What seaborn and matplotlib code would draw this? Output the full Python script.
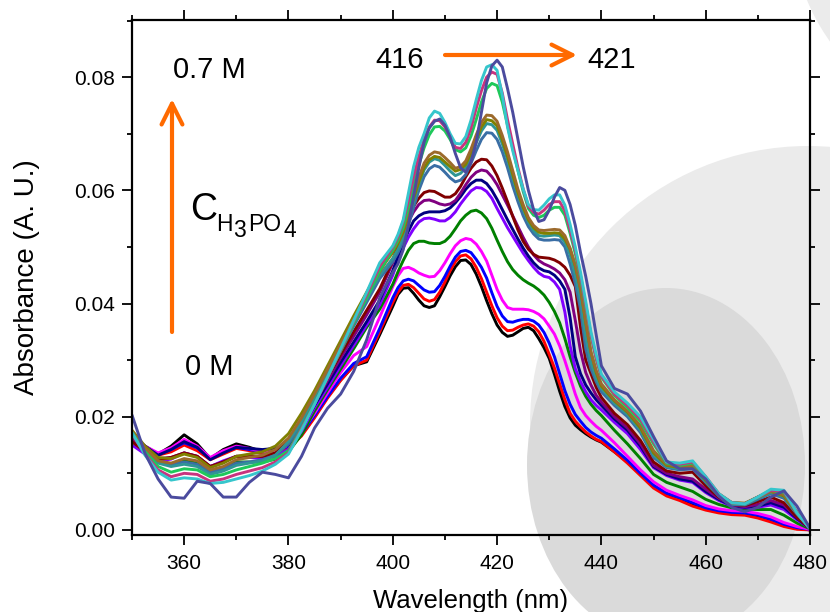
import numpy as np
import pandas as pd
import matplotlib
matplotlib.use("Agg")
import matplotlib.pyplot as plt
from matplotlib.patches import Circle, Ellipse
from matplotlib.ticker import MultipleLocator, FormatStrFormatter
import seaborn as sns

# Wavelength grid (nm): 2.5 nm steps, 1 nm steps across the Soret band
wavelength = ([350, 352.5, 355, 357.5, 360, 362.5, 365, 367.5, 370, 372.5, 375, 377.5,
               380, 382.5, 385, 387.5, 390, 392.5, 395, 397.5]
              + list(range(400, 441))
              + [442.5, 445, 447.5, 450, 452.5, 455, 457.5, 460, 462.5, 465, 467.5, 470,
                 472.5, 475, 477.5, 480])

# Absorbance spectra in units of 1e-3 A.U., from 0 M (first) to 0.7 M (last) H3PO4
abs_black = [16.5, 14.8, 13.4, 14.8, 16.8, 15.2, 12.6, 14.2, 15.2, 14.6, 13.8, 13.9,
             14.6, 16.8, 20.0, 23.5, 26.5, 29.0, 29.7, 34.5,
             39.5, 41.6, 42.7, 42.8, 41.8, 40.6, 39.6, 39.3, 39.6, 41.2, 43.0, 44.9, 46.5, 47.6,
             47.7, 46.9, 45.2, 43.0, 40.5, 38.2, 36.2, 34.9, 34.2, 34.4, 35.0, 35.6, 35.8, 35.2,
             33.8, 32.2, 30.3, 27.5, 24.5, 21.8, 19.8, 18.5, 17.7, 17.0, 16.4, 15.9, 15.5,
             13.8, 12.0, 9.8, 7.6, 6.3, 5.6, 4.6, 3.7, 3.4, 3.2, 3.0, 2.5, 1.8, 0.9, 0.3, 0.0]
abs_red = [15.8, 14.5, 13.2, 13.8, 15.0, 14.0, 12.4, 13.4, 14.4, 14.0, 13.5, 13.6,
           14.4, 16.6, 19.8, 23.3, 26.4, 29.0, 30.0, 35.0,
           40.2, 42.0, 43.2, 43.4, 42.8, 41.8, 40.8, 40.4, 40.7, 42.0, 43.8, 45.8, 47.4, 48.4,
           48.6, 47.9, 46.4, 44.4, 42.0, 39.6, 37.5, 36.0, 35.2, 35.3, 35.8, 36.2, 36.4, 36.0,
           35.0, 33.3, 31.0, 28.6, 25.8, 23.0, 20.6, 19.2, 18.2, 17.3, 16.6, 16.0, 15.6,
           13.8, 11.8, 9.6, 7.4, 6.0, 5.2, 4.2, 3.5, 3.0, 2.7, 2.6, 2.1, 1.4, 0.6, 0.1, 0.0]
abs_blue = [16.0, 14.6, 13.4, 14.2, 15.4, 14.5, 12.6, 13.8, 14.6, 14.2, 13.8, 13.9,
            14.8, 17.0, 20.2, 23.6, 26.8, 29.4, 30.6, 35.6,
            41.0, 42.8, 44.0, 44.3, 44.0, 43.2, 42.4, 42.0, 42.1, 43.2, 44.8, 46.6, 48.2, 49.2,
            49.4, 49.0, 47.8, 46.4, 44.5, 41.9, 39.5, 37.8, 36.8, 36.7, 37.0, 37.2, 37.2, 36.9,
            36.2, 34.9, 33.0, 30.6, 27.6, 24.6, 22.2, 20.4, 19.2, 18.1, 17.3, 16.7, 16.2,
            14.3, 12.3, 10.0, 7.9, 6.5, 5.7, 4.8, 3.9, 3.4, 3.1, 3.0, 2.6, 1.9, 1.0, 0.4, 0.1]
abs_magenta = [16.4, 14.8, 13.6, 14.5, 16.0, 14.8, 12.8, 14.0, 14.8, 14.4, 13.8, 14.0,
               15.0, 17.3, 20.6, 24.2, 27.8, 30.8, 32.4, 37.6,
               43.0, 44.9, 46.2, 46.4, 46.0, 45.4, 45.0, 44.7, 44.8, 45.8, 47.2, 48.8, 50.2, 51.1,
               51.5, 51.3, 50.5, 49.2, 47.5, 45.0, 42.5, 40.6, 39.3, 39.0, 39.0, 39.0, 38.9, 38.6,
               38.1, 37.3, 36.0, 34.6, 32.5, 29.9, 27.0, 24.0, 21.6, 20.2, 19.2, 18.3, 17.6,
               15.4, 13.0, 10.6, 8.5, 7.0, 6.1, 5.3, 4.3, 3.7, 3.4, 3.3, 2.9, 2.3, 1.3, 0.6, 0.1]
abs_green_dk = [16.2, 13.8, 12.0, 11.6, 12.2, 11.8, 10.2, 11.0, 12.0, 12.0, 12.0, 12.5,
                13.8, 16.8, 21.0, 24.8, 28.4, 32.0, 35.8, 39.0,
                43.4, 45.6, 47.6, 49.4, 50.6, 51.0, 51.0, 50.7, 50.6, 50.6, 51.0, 51.9, 53.2, 54.6,
                55.6, 56.3, 56.5, 56.0, 55.0, 53.3, 51.2, 49.2, 47.4, 46.0, 45.0, 44.2, 43.6, 43.1,
                42.4, 41.5, 40.2, 38.6, 36.6, 33.8, 30.6, 27.8, 25.4, 23.6, 22.2, 21.1, 20.2,
                17.6, 15.2, 12.6, 9.8, 8.4, 7.6, 6.8, 5.4, 4.5, 3.9, 3.7, 3.6, 3.6, 2.6, 1.2, 0.2]
abs_violet = [15.0, 13.4, 12.2, 12.5, 13.6, 13.0, 11.2, 12.2, 13.0, 12.8, 12.6, 13.0,
              14.2, 17.4, 21.6, 25.2, 29.0, 32.6, 36.2, 39.8,
              45.0, 47.6, 49.8, 51.7, 53.2, 54.4, 55.0, 55.1, 54.9, 54.6, 54.6, 55.2, 56.2, 57.6,
              58.8, 59.9, 60.5, 60.4, 59.8, 58.6, 56.8, 55.1, 53.4, 51.9, 50.4, 48.9, 47.6, 46.4,
              45.4, 44.8, 44.6, 43.8, 42.5, 38.5, 32.5, 28.5, 26.2, 24.4, 23.0, 22.0, 21.2,
              19.0, 17.0, 14.2, 11.0, 9.6, 8.8, 8.4, 6.6, 5.2, 4.2, 3.9, 4.0, 4.4, 3.6, 1.8, 0.3]
abs_navy = [16.8, 14.8, 13.2, 14.2, 15.6, 14.6, 12.4, 13.6, 14.6, 14.4, 14.2, 14.4,
            15.0, 17.8, 22.0, 25.8, 29.6, 33.2, 36.8, 40.6,
            45.8, 48.4, 50.8, 52.8, 54.6, 55.5, 56.0, 56.2, 56.2, 56.2, 56.4, 56.9, 57.8, 58.9,
            60.2, 61.2, 61.8, 61.8, 61.2, 60.0, 58.4, 56.6, 54.8, 53.1, 51.4, 49.8, 48.4, 47.2,
            46.3, 45.8, 45.6, 45.0, 44.0, 42.5, 37.5, 30.6, 27.6, 25.6, 24.2, 23.0, 22.0,
            19.6, 17.6, 14.8, 11.2, 9.8, 9.0, 8.6, 6.8, 5.4, 4.3, 4.0, 4.2, 4.8, 4.0, 2.0, 0.3]
abs_purple = [16.0, 14.0, 12.6, 12.8, 13.6, 13.0, 11.2, 12.0, 13.0, 13.0, 13.0, 13.4,
              15.2, 18.2, 22.4, 26.4, 30.4, 34.2, 38.0, 42.0,
              47.2, 49.9, 52.4, 54.5, 56.2, 57.5, 58.2, 58.3, 58.0, 57.6, 57.4, 57.6, 58.2, 59.5,
              61.0, 62.3, 63.2, 63.6, 63.4, 62.4, 61.0, 59.2, 57.4, 55.5, 53.6, 51.7, 50.0, 48.6,
              47.6, 47.0, 46.6, 46.1, 45.4, 44.2, 42.0, 37.0, 31.6, 27.8, 25.6, 23.8, 22.6,
              20.0, 18.0, 15.2, 11.4, 10.0, 9.4, 9.0, 7.2, 5.6, 4.4, 4.1, 4.5, 5.2, 4.4, 2.2, 0.3]
abs_wine = [15.6, 13.8, 12.4, 12.8, 13.6, 13.0, 11.2, 12.0, 13.0, 13.0, 13.0, 13.6,
            15.6, 18.8, 22.8, 27.0, 31.0, 35.0, 38.8, 42.6,
            47.6, 50.4, 53.0, 55.2, 57.2, 58.6, 59.6, 59.9, 59.8, 59.3, 58.8, 58.8, 59.4, 60.7,
            62.4, 63.9, 65.0, 65.5, 65.4, 64.3, 62.6, 60.4, 58.0, 55.4, 53.0, 51.0, 49.6, 48.7,
            48.2, 48.1, 48.0, 47.7, 47.2, 46.4, 45.0, 43.0, 35.8, 30.0, 27.6, 25.2, 23.4,
            20.6, 18.6, 15.8, 12.0, 10.4, 10.0, 10.2, 7.8, 5.8, 4.5, 4.3, 5.0, 5.8, 4.8, 2.2, 0.3]
abs_steel = [17.0, 14.2, 12.2, 11.6, 12.0, 11.6, 10.2, 10.8, 11.8, 12.0, 12.4, 13.2,
             15.2, 18.6, 22.8, 27.2, 31.6, 36.0, 40.2, 44.4,
             47.4, 49.0, 51.0, 53.8, 57.0, 60.0, 62.4, 63.8, 64.4, 64.1, 63.2, 62.2, 61.5, 61.8,
             62.8, 64.8, 67.0, 69.0, 70.2, 70.1, 69.0, 66.8, 64.0, 60.8, 58.0, 55.5, 53.6, 52.3,
             51.4, 51.2, 51.2, 51.3, 51.2, 50.0, 47.0, 43.5, 39.0, 32.0, 28.5, 26.2, 24.4,
             22.0, 20.0, 17.2, 12.8, 11.0, 10.6, 10.8, 8.4, 6.0, 4.5, 4.4, 5.4, 6.4, 5.6, 2.8, 0.3]
abs_teal = [17.2, 14.0, 11.8, 11.2, 11.6, 11.2, 9.8, 10.4, 11.4, 11.8, 12.2, 13.2,
            15.6, 19.2, 23.4, 27.8, 32.2, 36.6, 40.8, 45.0,
            48.0, 49.6, 51.8, 54.6, 58.0, 61.0, 63.6, 65.0, 65.6, 65.3, 64.4, 63.4, 62.6, 63.0,
            64.0, 66.0, 68.4, 70.5, 71.8, 71.6, 70.6, 68.2, 65.4, 62.2, 59.2, 56.6, 54.4, 52.9,
            52.0, 51.9, 52.0, 52.1, 52.0, 50.8, 48.6, 45.0, 40.6, 34.0, 29.6, 26.8, 25.0,
            22.4, 20.4, 17.6, 13.2, 11.2, 10.8, 11.0, 8.6, 6.1, 4.6, 4.5, 5.6, 6.6, 5.9, 3.0, 0.3]
abs_olive = [17.6, 14.8, 12.8, 12.6, 13.4, 12.8, 11.0, 11.8, 13.0, 13.4, 13.8, 14.8,
             17.0, 20.6, 24.6, 29.0, 33.4, 37.8, 42.0, 46.0,
             49.0, 50.6, 52.6, 55.4, 58.6, 61.5, 64.0, 65.4, 66.0, 65.8, 65.0, 64.2, 63.4, 63.7,
             64.6, 66.6, 69.0, 71.2, 72.5, 72.3, 71.4, 68.9, 66.0, 62.8, 59.6, 57.0, 54.8, 53.4,
             52.6, 52.4, 52.4, 52.5, 52.4, 51.4, 49.6, 46.6, 42.6, 36.6, 31.4, 27.8, 25.4,
             22.8, 20.8, 18.0, 13.6, 11.4, 11.0, 11.2, 8.8, 6.2, 4.8, 4.7, 5.8, 6.8, 6.0, 3.0, 0.3]
abs_brown = [17.4, 14.4, 12.2, 11.8, 12.6, 12.2, 10.6, 11.2, 12.4, 12.8, 13.2, 14.2,
             16.2, 19.8, 24.0, 28.4, 32.8, 37.2, 41.4, 45.6,
             49.4, 51.0, 53.2, 56.0, 59.4, 62.3, 64.8, 66.2, 66.8, 66.6, 65.8, 64.9, 63.9, 64.2,
             65.2, 67.3, 69.8, 72.0, 73.3, 73.2, 72.2, 69.7, 66.8, 63.5, 60.2, 57.5, 55.2, 53.8,
             53.0, 52.9, 53.0, 53.1, 53.0, 52.0, 49.8, 46.8, 42.6, 36.8, 31.4, 28.2, 25.8,
             23.0, 21.0, 18.4, 14.0, 11.6, 11.2, 11.4, 9.0, 6.3, 4.8, 4.7, 5.8, 6.8, 6.2, 3.2, 0.3]
abs_green = [17.2, 13.8, 11.2, 10.2, 10.8, 10.6, 9.4, 9.8, 10.6, 11.2, 11.8, 12.6,
             14.0, 18.0, 22.4, 27.0, 31.6, 36.4, 41.0, 45.8,
             49.5, 51.2, 53.5, 57.0, 61.0, 64.5, 67.5, 69.8, 71.2, 71.3, 70.5, 69.0, 67.2, 66.8,
             67.5, 69.6, 72.5, 75.6, 78.0, 78.9, 78.5, 75.6, 71.5, 67.4, 63.5, 59.8, 56.8, 55.6,
             55.2, 55.6, 56.5, 57.0, 57.0, 55.6, 52.4, 48.8, 44.5, 39.4, 34.3, 30.2, 27.0,
             23.8, 21.6, 19.2, 15.2, 11.8, 11.4, 11.8, 9.2, 6.4, 4.8, 4.6, 5.8, 7.0, 6.6, 3.0, 0.2]
abs_pink = [17.0, 13.4, 10.6, 9.4, 10.0, 9.8, 8.6, 9.0, 9.8, 10.4, 11.0, 12.0,
            13.6, 17.8, 22.2, 27.0, 31.8, 36.8, 41.6, 46.6,
            50.0, 51.8, 54.5, 58.2, 62.5, 66.0, 69.0, 71.2, 72.4, 72.3, 71.2, 69.6, 67.6, 67.4,
            68.5, 71.0, 74.5, 77.6, 80.0, 80.9, 80.5, 77.2, 72.5, 68.2, 64.0, 60.3, 57.2, 56.1,
            55.8, 56.5, 57.5, 58.0, 58.0, 56.4, 53.0, 49.4, 45.0, 39.8, 34.5, 30.4, 27.2,
            24.0, 22.0, 19.6, 15.6, 12.0, 11.6, 12.0, 9.4, 6.4, 4.8, 4.6, 5.8, 7.0, 6.8, 3.0, 0.2]
abs_cyan = [17.2, 13.2, 10.2, 8.8, 9.2, 9.0, 8.2, 8.4, 9.0, 9.6, 10.4, 11.6,
            13.4, 17.6, 22.2, 27.0, 32.0, 37.0, 42.0, 47.2,
            50.2, 52.2, 54.8, 59.5, 64.2, 67.6, 70.0, 72.8, 74.0, 73.6, 72.0, 70.0, 68.3, 68.2,
            69.5, 72.4, 76.0, 79.4, 81.8, 82.2, 81.2, 76.8, 71.2, 67.0, 63.5, 60.2, 57.5, 56.6,
            56.5, 57.4, 58.5, 59.2, 59.2, 57.4, 54.0, 50.0, 45.5, 40.4, 35.0, 31.0, 27.5,
            24.4, 22.4, 20.0, 16.0, 12.0, 11.8, 12.2, 9.4, 6.4, 4.8, 4.6, 5.8, 7.2, 7.0, 3.0, 0.2]
abs_slate = [20.3, 13.5, 9.0, 5.8, 5.6, 8.6, 8.2, 5.8, 5.8, 8.4, 10.2, 9.8,
             9.2, 13.0, 18.0, 21.5, 24.0, 28.0, 33.6, 41.0,
             45.5, 47.0, 49.5, 53.8, 59.0, 64.0, 68.5, 71.0, 72.2, 72.6, 71.5, 69.4, 66.5, 64.0,
             63.2, 65.0, 68.5, 73.8, 79.0, 82.0, 83.0, 81.8, 78.0, 73.8, 69.0, 64.2, 60.0, 56.6,
             54.5, 54.8, 56.5, 58.8, 60.5, 60.0, 57.5, 53.8, 49.0, 44.8, 40.0, 34.5, 29.0,
             25.0, 24.0, 21.0, 16.5, 12.2, 10.8, 10.8, 9.0, 6.0, 4.0, 3.2, 4.0, 5.8, 6.9, 4.2, 0.3]

spectra = [abs_black, abs_red, abs_blue, abs_magenta, abs_green_dk, abs_violet, abs_navy,
           abs_purple, abs_wine, abs_steel, abs_teal, abs_olive, abs_brown, abs_green,
           abs_pink, abs_cyan, abs_slate]
colors = ["#000000", "#FF0000", "#0000FF", "#FF00FF", "#008000", "#8000FF", "#000080",
          "#800080", "#800000", "#3A6EA5", "#2F9595", "#808000", "#9C6A2C", "#1EC85A",
          "#C8337E", "#36C6CC", "#4B4B9E"]
names = [f"S{i:02d}" for i in range(len(spectra))]
for vals in spectra:
    assert len(vals) == len(wavelength)

rows = []
for name, vals in zip(names, spectra):
    for wl, a in zip(wavelength, vals):
        rows.append((name, wl, a / 1000.0))
df = pd.DataFrame(rows, columns=["series", "wavelength", "absorbance"])

sns.set_theme(style="ticks")
plt.rcParams["font.family"] = ["Liberation Sans", "DejaVu Sans"]
for key in ("text.color", "axes.labelcolor", "xtick.color", "ytick.color", "axes.edgecolor"):
    plt.rcParams[key] = "black"

W, H = 830, 612
fig = plt.figure(figsize=(W / 100, H / 100), dpi=100)
fig.patch.set_facecolor("white")

# decorative background discs (pixel coordinates)
bg = fig.add_axes([0, 0, 1, 1], zorder=0)
bg.set_xlim(0, W)
bg.set_ylim(H, 0)
bg.axis("off")
bg.add_patch(Circle((1000, -80), 209, color="#EBEBEB", lw=0))
bg.add_patch(Circle((808, 424), 278, color="#EBEBEB", lw=0))
bg.add_patch(Ellipse((666, 465), 278, 354, color="#DADADA", lw=0))

ax = fig.add_axes([132 / W, 1 - 535 / H, (810 - 132) / W, (535 - 20) / H], zorder=2)
ax.patch.set_alpha(0)

sns.lineplot(data=df, x="wavelength", y="absorbance", hue="series", hue_order=names,
             palette=dict(zip(names, colors)), estimator=None, sort=False,
             legend=False, linewidth=2.1, ax=ax)
for ln in ax.get_lines():
    ln.set_solid_joinstyle("round")
    ln.set_solid_capstyle("round")

ax.set_xlim(350, 480)
ax.set_ylim(-0.0009, 0.0901)
ax.xaxis.set_major_locator(MultipleLocator(20))
ax.xaxis.set_minor_locator(MultipleLocator(10))
ax.yaxis.set_major_locator(MultipleLocator(0.02))
ax.yaxis.set_minor_locator(MultipleLocator(0.01))
ax.yaxis.set_major_formatter(FormatStrFormatter("%.2f"))
ax.tick_params(which="both", direction="out", top=True, right=True,
               labeltop=False, labelright=False, width=1.3, color="black",
               labelcolor="black")
ax.tick_params(which="major", length=7, labelsize=15)
ax.tick_params(axis="x", which="major", pad=7)
ax.tick_params(axis="y", which="major", pad=5)
ax.tick_params(which="minor", length=3.6)
for sp in ax.spines.values():
    sp.set_linewidth(1.6)
    sp.set_color("black")
ax.set_xlabel("Wavelength (nm)", fontsize=18.5, labelpad=11)
ax.set_ylabel("Absorbance (A. U.)", fontsize=20, labelpad=25)

# annotation layer (pixel coordinates)
ov = fig.add_axes([0, 0, 1, 1], zorder=5)
ov.set_xlim(0, W)
ov.set_ylim(H, 0)
ov.axis("off")
ov.patch.set_alpha(0)

orange = "#FF6A00"
arrow_kw = dict(arrowstyle="->,head_length=1.0,head_width=0.5", color=orange,
                lw=3, mutation_scale=15, shrinkA=0, shrinkB=0)
ov.annotate("", xy=(172, 99), xytext=(172, 332), arrowprops=arrow_kw)
ov.annotate("", xy=(577, 55), xytext=(445, 55), arrowprops=arrow_kw)

fs_big = 21
ov.text(173, 78, "0.7 M", fontsize=fs_big, va="baseline", ha="left")
ov.text(185, 375, "0 M", fontsize=fs_big, va="baseline", ha="left")
ov.text(375, 68, "416", fontsize=fs_big, va="baseline", ha="left")
ov.text(587, 68, "421", fontsize=fs_big, va="baseline", ha="left")
ov.text(190, 220, "C", fontsize=27, va="baseline", ha="left")
ov.text(216, 231, "H", fontsize=16.5, va="baseline", ha="left")
ov.text(233, 237, "3", fontsize=16.5, va="baseline", ha="left")
ov.text(248, 231, "PO", fontsize=16.5, va="baseline", ha="left")
ov.text(283, 237, "4", fontsize=16.5, va="baseline", ha="left")

fig.savefig("out.png", dpi=100)
